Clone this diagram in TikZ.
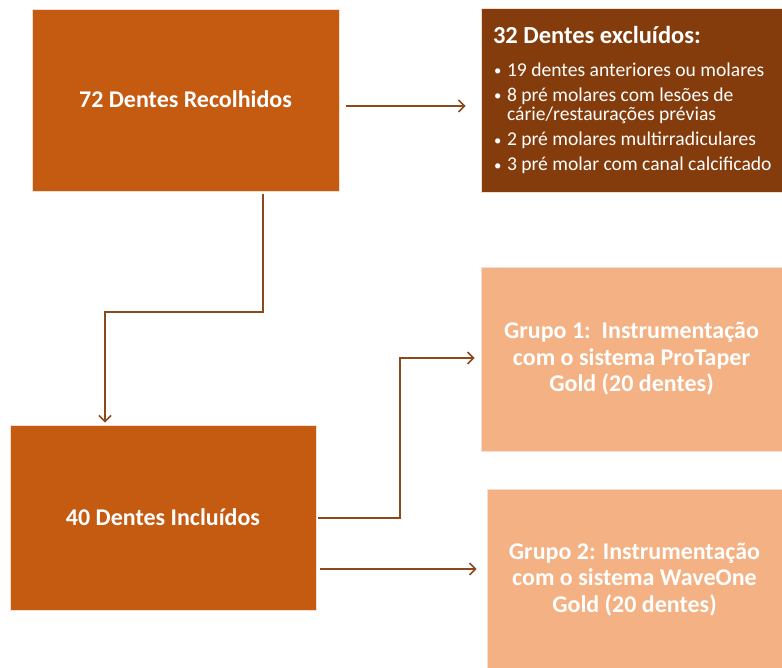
\documentclass[tikz,border=0pt]{standalone}
\usepackage{fontspec}
\setmainfont{Carlito}
\usetikzlibrary{arrows.meta,calc}
\definecolor{orangeA}{HTML}{C55A11}
\definecolor{brownB}{HTML}{843C0C}
\definecolor{peach}{HTML}{F4B183}
\definecolor{arrowc}{HTML}{8A4A1E}
\newcommand{\blt}{\makebox[14pt][l]{\hspace{1pt}\raisebox{0.5pt}{\scalebox{0.75}{•}}}}
\tikzset{
  box/.style={rectangle, draw=white!80!orangeA, line width=0.6pt, text=white, align=center, inner sep=0pt,
    font=\fontsize{24}{26.5}\selectfont\bfseries},
  arr/.style={draw=arrowc, line width=1.8pt, -{Straight Barb[length=6pt,width=12pt,line width=1.7pt]}},
}
\begin{document}
\begin{tikzpicture}[x=1pt,y=-1pt]
\useasboundingbox (0,0) rectangle (782,668);
\fill[white] (0,0) rectangle (782,668);

\node[box, fill=orangeA, minimum width=307pt, minimum height=182pt] (A) at (185.5,100) {\raisebox{2pt}{72 Dentes Recolhidos}};

\node[box, fill=brownB, minimum width=301pt, minimum height=184pt, font=\normalfont] (B) at (631.5,100) {\raisebox{2.5pt}{\parbox{277pt}{\raggedright
{\fontsize{24.5}{27}\selectfont\bfseries 32 Dentes excluídos:\par}
\vspace{13pt}
\fontsize{19.6}{19.5}\selectfont
\mbox{\blt 19 dentes anteriores ou molares}\par\vspace{5.5pt}
\mbox{\blt 8 pré molares com lesões de}\par
\mbox{\hspace{14pt}cárie/restaurações prévias}\par\vspace{5.5pt}
\mbox{\blt 2 pré molares multirradiculares}\par\vspace{5.5pt}
\mbox{\blt 3 pré molar com canal calcificado}\par}}};

\node[box, fill=peach, minimum width=301pt, minimum height=184pt] (C) at (631.5,359)
  {Grupo 1:\ \ Instrumentação\\com o sistema ProTaper\\Gold (20 dentes)};

\node[box, fill=orangeA, minimum width=306pt, minimum height=185pt] (D) at (163,517.5) {40 Dentes Incluídos};

\node[box, fill=peach, minimum width=295pt, minimum height=181pt] (E) at (634.5,579.5)
  {Grupo 2: Instrumentação\\com o sistema WaveOne\\Gold (20 dentes)};

% connectors
\coordinate (ab1) at ($(A.east)+(7,6)$);
\coordinate (ab2) at ($(B.west)+(-15,6)$);
\draw[arr] (ab1) -- (ab2);

\coordinate (ad1) at ($(A.south)+(77.5,3)$);
\coordinate (ad2) at ($(D.north)+(-58,-2)$);
\draw[arr] (ad1) -- ++(0,118) -| (ad2);

\coordinate (dc1) at ($(D.east)+(2,0.5)$);
\coordinate (dc2) at ($(C.west)+(-6,-1)$);
\draw[arr] (dc1) -| ($(dc2)+(-75,0)$) -- (dc2);

\coordinate (de1) at ($(D.east)+(4,51.5)$);
\coordinate (de2) at ($(E.west)+(-10,-10.5)$);
\draw[arr] (de1) -- (de2);
\end{tikzpicture}
\end{document}
